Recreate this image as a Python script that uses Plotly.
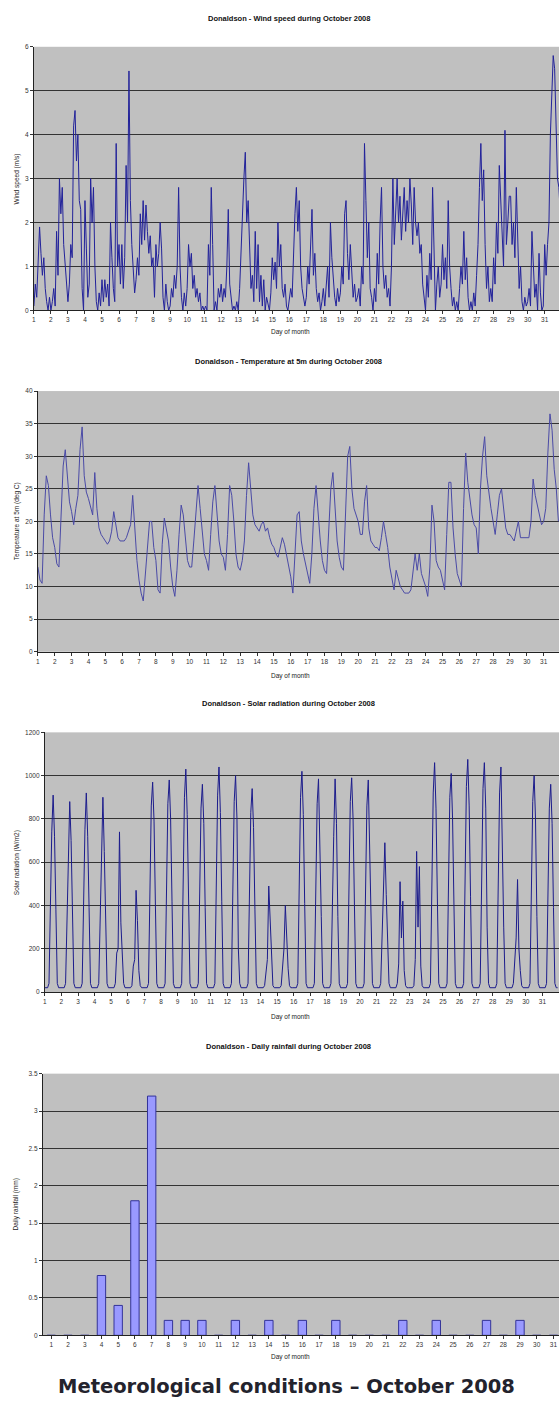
import plotly.graph_objects as go

W, H = 559, 1405

# ---------------- data ----------------
days = list(range(1, 32))
day_labels = [str(d) for d in days]

# wind speed (m/s), 2-hourly samples, 12 per day
wind_ms = [
    0.1, 0.6, 0.3, 1.1, 1.9, 1.3, 0.8, 1.2, 0.5, 0.2, 0.0, 0.3,
    0.0, 0.2, 0.5, 0.1, 1.8, 0.8, 3.0, 2.2, 2.8, 1.5, 1.0, 0.5,
    0.2, 0.6, 1.5, 1.2, 4.2, 4.55, 3.4, 4.0, 2.5, 2.3, 0.5, 0.0,
    2.5, 1.4, 0.3, 0.6, 3.0, 2.0, 2.8, 1.0, 0.2, 0.0, 0.4, 0.1,
    0.7, 0.2, 0.7, 0.3, 0.6, 0.1, 2.0, 1.2, 0.5, 0.2, 3.8, 1.0,
    1.5, 0.6, 1.5, 0.5, 1.2, 3.3, 2.0, 5.45, 2.5, 1.5, 0.8, 0.4,
    0.7, 1.2, 0.8, 2.2, 1.5, 2.5, 1.6, 2.4, 1.8, 1.3, 1.7, 1.0,
    1.2, 0.3, 1.5, 1.0, 1.3, 2.0, 1.4, 0.3, 0.0, 0.6, 0.2, 0.0,
    0.1, 0.5, 0.3, 0.8, 0.5, 1.0, 2.8, 1.0, 0.3, 0.0, 0.4, 0.1,
    0.5, 1.5, 1.0, 1.3, 0.5, 0.8, 0.3, 0.5, 0.2, 0.4, 0.0, 0.1,
    0.0, 0.1, 0.0, 1.5, 0.8, 2.8, 1.5, 0.0, 0.2, 0.0, 0.5, 0.3,
    0.6, 0.2, 0.5, 0.3, 1.0, 2.3, 0.6, 0.3, 0.0, 0.1, 0.0, 0.2,
    0.0, 0.5, 1.5, 2.5, 3.0, 3.6, 2.0, 2.5, 1.2, 0.5, 0.8, 0.2,
    1.8, 0.5, 1.5, 0.2, 0.8, 0.1, 0.7, 0.0, 0.3, 0.1, 0.0, 0.4,
    1.2, 0.7, 1.1, 0.5, 2.0, 1.0, 1.5, 0.5, 0.3, 0.6, 0.1, 0.0,
    0.2, 0.5, 0.3, 1.5, 2.2, 2.8, 1.8, 2.5, 1.0, 0.5, 0.3, 0.1,
    0.3, 1.0, 0.6, 1.5, 2.3, 0.8, 1.3, 0.5, 0.2, 0.4, 0.0, 0.2,
    0.5, 0.1, 0.7, 1.0, 0.3, 2.0, 1.2, 0.6, 0.3, 0.1, 0.5, 0.2,
    0.4, 1.0, 0.6, 2.2, 2.5, 1.3, 0.7, 1.5, 0.9, 0.3, 0.6, 0.2,
    0.3, 0.5, 0.1, 1.0, 0.6, 3.8, 2.5, 1.2, 2.0, 0.5, 0.3, 0.0,
    0.5, 0.2, 1.3, 0.6, 2.0, 2.8, 1.0, 0.5, 0.8, 0.3, 0.5, 0.1,
    1.0, 3.0, 1.5, 2.5, 3.0, 2.0, 2.6, 1.6, 2.2, 2.8, 1.8, 2.5,
    2.0, 3.0, 2.4, 1.5, 2.8, 2.0, 1.7, 2.0, 1.3, 1.5, 0.6, 0.2,
    0.0, 0.8, 0.3, 1.3, 0.7, 2.8, 0.9, 0.0, 0.6, 1.0, 0.3, 0.6,
    1.5, 0.7, 1.2, 0.5, 2.5, 1.0, 0.5, 0.1, 0.3, 0.0, 0.2, 0.0,
    0.5, 1.0, 0.6, 1.8, 0.7, 1.2, 0.3, 0.0, 0.2, 0.0, 0.4, 0.1,
    0.8, 1.5, 2.8, 3.8, 2.5, 3.2, 1.5, 0.5, 1.0, 0.2, 0.5, 0.2,
    1.2, 0.6, 2.0, 1.3, 3.3, 2.5, 2.0, 1.0, 4.1, 1.5, 2.0, 2.6,
    2.6, 1.5, 2.0, 1.2, 2.8, 1.5, 0.5, 1.0, 0.2, 0.0, 0.3, 0.1,
    0.2, 0.5, 0.1, 1.8, 1.0, 0.3, 0.6, 0.0, 1.3, 0.4, 0.0, 0.1,
    1.5, 0.8, 1.5, 2.0, 4.0, 5.0, 5.8, 5.5, 4.5, 3.0, 2.8, 2.2,
]

# temperature at 5 m (deg C), 3-hourly samples, 8 per day
temp_c = [
    13.0, 11.0, 10.5, 21.0, 27.0, 25.5, 21.0, 17.5,
    16.0, 13.5, 13.0, 22.0, 28.5, 31.0, 27.5, 23.0,
    21.5, 19.5, 22.0, 24.0, 31.0, 34.5, 27.0, 24.5,
    23.5, 22.0, 21.0, 27.5, 22.0, 19.0, 18.0, 17.5,
    17.0, 16.5, 17.0, 18.5, 21.5, 19.5, 17.5, 17.0,
    17.0, 17.0, 17.5, 18.5, 19.5, 24.0, 18.5, 14.0,
    11.0, 9.0, 7.8, 12.0, 17.0, 20.0, 20.0, 16.0,
    14.0, 9.5, 9.0, 16.5, 20.5, 19.0, 17.0, 13.0,
    10.0, 8.5, 12.5, 18.0, 22.5, 21.0, 17.0, 14.0,
    13.0, 13.0, 17.0, 22.0, 25.5, 22.0, 18.0, 15.0,
    14.0, 12.5, 18.0, 23.0, 25.5, 21.0, 17.0, 15.0,
    14.5, 12.5, 18.0, 25.5, 24.0, 20.0, 15.0, 13.0,
    12.5, 14.0, 17.0, 24.0, 29.0, 25.0, 21.0, 19.5,
    19.0, 18.5, 19.5, 20.0, 18.5, 19.0, 17.5, 16.5,
    16.0, 15.0, 14.5, 16.0, 17.5, 16.5, 15.0, 13.0,
    11.5, 9.0, 15.0, 21.0, 21.5, 17.0, 15.0, 13.5,
    12.0, 10.5, 15.0, 22.0, 25.5, 21.0, 17.0, 14.0,
    12.5, 12.0, 18.0, 25.0, 27.5, 22.0, 17.0, 14.5,
    13.0, 12.5, 20.0, 30.0, 31.5, 25.0, 22.0, 21.0,
    20.0, 18.0, 18.0, 23.0, 25.5, 19.0, 17.0, 16.5,
    16.0, 16.0, 15.5, 17.5, 20.0, 18.0, 16.0, 13.0,
    11.5, 9.5, 12.5, 11.0, 10.0, 9.5, 9.0, 9.0,
    9.0, 9.5, 12.0, 15.0, 12.5, 15.0, 12.0, 11.0,
    10.0, 8.5, 13.0, 22.5, 20.0, 14.0, 13.0, 12.5,
    11.0, 9.5, 18.0, 26.0, 26.0, 19.0, 15.0, 12.0,
    11.0, 10.0, 22.0, 30.5, 26.0, 23.0, 21.0, 19.5,
    19.0, 15.0, 25.0, 30.0, 33.0, 27.0, 24.0, 22.0,
    20.0, 18.0, 21.0, 24.0, 25.0, 22.0, 19.0, 18.0,
    18.0, 17.5, 17.0, 18.5, 20.0, 17.5, 17.5, 17.5,
    17.5, 17.5, 20.0, 26.5, 24.0, 22.5, 20.5, 19.5,
    20.0, 22.0, 30.5, 36.5, 34.0, 28.0, 25.0, 20.0,
]

# solar radiation (W/m2), 2-hourly samples, 12 per day
solar_wm2 = [
    20, 20, 20, 40, 400, 740, 910, 720, 380, 40, 20, 20,
    20, 20, 20, 40, 380, 700, 880, 700, 350, 40, 20, 20,
    20, 20, 20, 40, 410, 750, 920, 720, 390, 40, 20, 20,
    20, 20, 20, 40, 390, 720, 900, 650, 300, 40, 20, 20,
    20, 20, 20, 40, 180, 200, 740, 320, 160, 40, 20, 20,
    20, 20, 20, 30, 120, 150, 470, 330, 100, 30, 20, 20,
    20, 20, 20, 40, 430, 860, 970, 790, 400, 40, 20, 20,
    20, 20, 20, 40, 440, 870, 980, 800, 420, 40, 20, 20,
    20, 20, 20, 40, 470, 900, 1030, 820, 430, 40, 20, 20,
    20, 20, 20, 40, 430, 850, 960, 780, 390, 40, 20, 20,
    20, 20, 20, 40, 460, 910, 1040, 830, 420, 40, 20, 20,
    20, 20, 20, 40, 440, 880, 1000, 800, 200, 40, 20, 20,
    20, 20, 20, 40, 420, 830, 940, 760, 380, 40, 20, 20,
    20, 20, 20, 30, 100, 150, 490, 320, 120, 30, 20, 20,
    20, 20, 20, 30, 120, 200, 400, 220, 110, 30, 20, 20,
    20, 20, 20, 40, 450, 900, 1020, 820, 410, 40, 20, 20,
    20, 20, 20, 40, 440, 870, 985, 600, 350, 40, 20, 20,
    20, 20, 20, 40, 430, 720, 985, 780, 350, 40, 20, 20,
    20, 20, 20, 40, 600, 880, 990, 800, 400, 40, 20, 20,
    20, 20, 20, 40, 430, 860, 980, 600, 300, 40, 20, 20,
    20, 20, 20, 40, 300, 500, 690, 450, 200, 40, 20, 20,
    20, 20, 20, 40, 130, 510, 250, 420, 100, 30, 20, 20,
    20, 20, 20, 30, 150, 650, 300, 580, 120, 30, 20, 20,
    20, 20, 20, 40, 460, 920, 1060, 850, 430, 40, 20, 20,
    20, 20, 20, 40, 450, 900, 1010, 800, 400, 40, 20, 20,
    20, 20, 20, 40, 480, 950, 1075, 860, 440, 40, 20, 20,
    20, 20, 20, 40, 470, 940, 1060, 850, 300, 40, 20, 20,
    20, 20, 20, 40, 460, 920, 1040, 600, 300, 40, 20, 20,
    20, 20, 20, 40, 150, 250, 520, 200, 100, 30, 20, 20,
    20, 20, 20, 40, 440, 880, 1000, 800, 350, 40, 20, 20,
    20, 20, 20, 40, 420, 850, 960, 780, 390, 40, 20, 20,
]

# daily rainfall (mm)
rain_mm = [0, 0, 0, 0.8, 0.4, 1.8, 3.2, 0.2, 0.2, 0.2, 0, 0.2, 0, 0.2, 0, 0.2,
           0, 0.2, 0, 0, 0, 0.2, 0, 0.2, 0, 0, 0.2, 0, 0.2, 0, 0]

# ---------------- time axes ----------------
wind_t = [1 + i / 12 for i in range(len(wind_ms))]
temp_t = [1 + i / 8 for i in range(len(temp_c))]
solar_t = [1 + i / 12 for i in range(len(solar_wm2))]

# ---------------- layout helpers ----------------
def px_x(x):
    return x / W

def px_y(y):
    return 1 - y / H

PLOT_BG = "#c0c0c0"
GRID = "#333333"
TICKFONT = dict(family="Liberation Sans, Arial", size=6.5, color="#333333")
LABELFONT = dict(family="Liberation Sans, Arial", size=6.5, color="#222222")
TITLEFONT = dict(family="Liberation Sans, Arial", size=7.5, color="#111111")

panels = [
    dict(left=32, top=43, bottom=308, xr=[1, 31.84], yr=[0, 6], dt=1,
         title="Donaldson - Wind speed during October 2008", ty=15,
         ytitle="Wind speed (m/s)", xty=330),
    dict(left=36, top=389, bottom=651, xr=[1, 31.91], yr=[0, 40], dt=5,
         title="Donaldson - Temperature at 5m during October 2008", ty=359,
         ytitle="Temperature at 5m (deg C)", xty=675),
    dict(left=43, top=732, bottom=993, xr=[1, 32.0], yr=[0, 1200], dt=200,
         title="Donaldson - Solar radiation during October 2008", ty=703,
         ytitle="Solar radiation (W/m2)", xty=1018),
    dict(left=41, top=1075, bottom=1338, xr=[0.5, 31.33], yr=[0, 3.5], dt=0.5,
         title="Donaldson - Daily rainfall during October 2008", ty=1048,
         ytitle="Daily rainfall (mm)", xty=1360),
]

fig = go.Figure()

fig.add_trace(go.Scatter(x=wind_t, y=wind_ms, mode="lines",
                         line=dict(color="#22229a", width=1), xaxis="x", yaxis="y"))
fig.add_trace(go.Scatter(x=temp_t, y=temp_c, mode="lines",
                         line=dict(color="#4a4aa6", width=1), xaxis="x2", yaxis="y2"))
fig.add_trace(go.Scatter(x=solar_t, y=solar_wm2, mode="lines",
                         line=dict(color="#1c1c8c", width=1), xaxis="x3", yaxis="y3"))
fig.add_trace(go.Bar(x=days, y=rain_mm, width=0.5,
                     marker=dict(color="#9999ff", line=dict(color="#333399", width=1)),
                     xaxis="x4", yaxis="y4"))

layout = dict(
    width=W, height=H,
    margin=dict(l=0, r=0, t=0, b=0),
    paper_bgcolor="white",
    plot_bgcolor=PLOT_BG,
    showlegend=False,
    annotations=[],
)

for i, p in enumerate(panels, start=1):
    xs = "" if i == 1 else str(i)
    layout["xaxis" + xs] = dict(
        domain=[px_x(p["left"]), 1.0], range=p["xr"], anchor="y" + xs,
        tickmode="array", tickvals=days, ticktext=day_labels,
        ticks="outside", ticklen=3, tickcolor="#333333", tickfont=TICKFONT,
        showgrid=False, showline=True, linecolor="#222222", linewidth=1,
        zeroline=False, fixedrange=True,
    )
    layout["yaxis" + xs] = dict(
        domain=[px_y(p["bottom"]), px_y(p["top"])], range=p["yr"], anchor="x" + xs,
        dtick=p["dt"], tick0=0, ticks="outside", ticklen=3, tickcolor="#333333",
        tickfont=TICKFONT, showgrid=True, gridcolor=GRID, gridwidth=1,
        showline=True, linecolor="#222222", linewidth=1, zeroline=False,
        fixedrange=True,
    )
    layout["annotations"] += [
        dict(text="<b>" + p["title"] + "</b>", x=px_x(288), y=px_y(p["ty"]),
             xref="paper", yref="paper", showarrow=False, font=TITLEFONT,
             xanchor="center", yanchor="middle"),
        dict(text="Day of month", x=px_x(290), y=px_y(p["xty"]),
             xref="paper", yref="paper", showarrow=False, font=LABELFONT,
             xanchor="center", yanchor="middle"),
        dict(text=p["ytitle"], x=px_x(15), y=px_y((p["top"] + p["bottom"]) / 2),
             xref="paper", yref="paper", showarrow=False, font=LABELFONT,
             textangle=-90, xanchor="center", yanchor="middle"),
    ]

layout["annotations"].append(
    dict(text="<b>Meteorological conditions \u2013 October 2008</b>", x=px_x(286), y=px_y(1389),
         xref="paper", yref="paper", showarrow=False,
         font=dict(family="DejaVu Sans", size=19.5, color="#23232d"),
         xanchor="center", yanchor="middle"))

fig.update_layout(**layout)
fig.write_html("out.html")
